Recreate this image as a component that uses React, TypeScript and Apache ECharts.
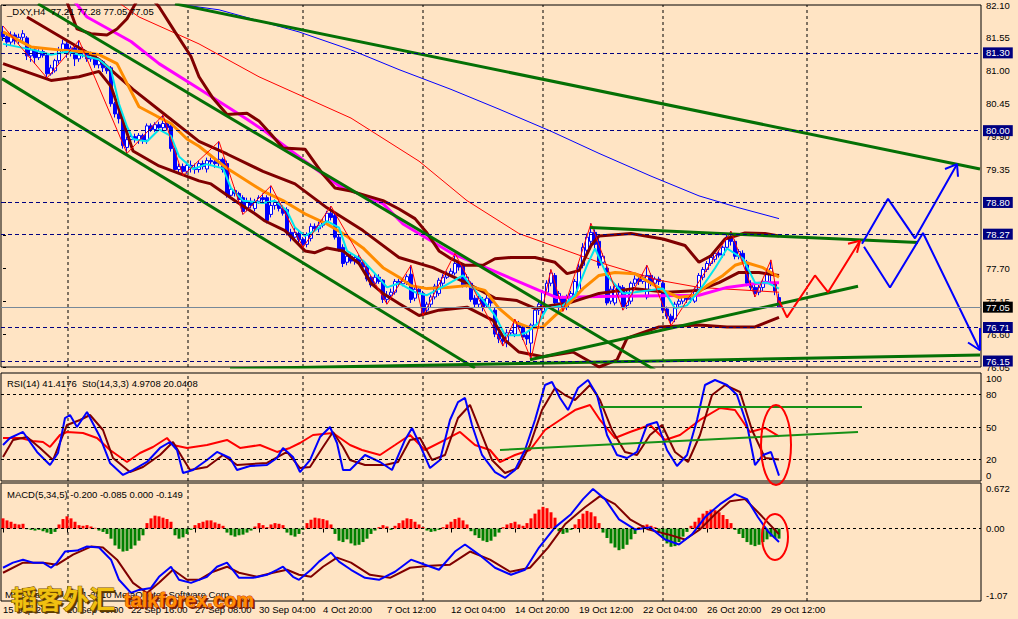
import React, { useEffect, useRef } from "react";
import * as echarts from "echarts";

// ---------- candles (H4 bars, index 0..194) ----------
const OPEN = [81.65,81.57,81.48,81.60,81.50,81.56,81.55,81.25,81.35,81.22,81.32,81.26,80.95,81.00,81.17,81.35,81.45,81.30,81.38,81.20,81.35,81.30,81.20,81.28,81.10,81.15,81.05,81.05,80.45,80.28,80.20,79.72,79.85,79.90,79.85,79.92,79.84,80.08,80.02,80.10,80.05,80.12,80.08,79.70,79.35,79.40,79.32,79.42,79.38,79.35,79.45,79.36,79.50,79.48,79.45,79.52,79.45,78.92,79.00,78.95,78.88,78.70,78.82,78.70,78.82,78.88,78.88,78.60,78.75,78.78,78.70,78.68,78.30,78.22,78.28,78.18,78.10,78.20,78.40,78.36,78.42,78.48,78.62,78.58,78.22,78.05,77.80,77.90,77.82,77.88,77.80,77.72,77.55,77.45,77.55,77.50,77.18,77.25,77.30,77.48,77.44,77.48,77.60,77.20,77.35,77.28,77.00,77.10,77.22,77.28,77.45,77.55,77.60,77.62,77.78,77.75,77.42,77.45,77.20,77.10,77.18,77.08,77.20,77.00,76.60,76.52,76.45,76.62,76.60,76.78,76.72,76.58,76.45,76.75,77.00,76.98,77.30,77.45,77.58,77.12,77.20,77.05,77.22,77.26,77.30,77.75,78.00,78.15,78.30,78.15,77.80,77.70,77.15,77.12,77.40,77.38,77.08,77.15,77.45,77.52,77.48,77.22,77.58,77.45,77.52,77.45,77.02,76.90,76.85,77.10,77.15,77.22,77.18,77.15,77.35,77.55,77.68,77.78,77.85,77.95,77.92,78.05,78.22,78.15,77.90,77.95,77.80,77.45,77.38,77.30,77.38,77.48,77.60,77.45,77.21];
const CLOSE = [81.57,81.48,81.60,81.50,81.56,81.62,81.25,81.35,81.22,81.32,81.26,80.95,81.05,81.17,81.35,81.45,81.30,81.38,81.20,81.35,81.30,81.20,81.28,81.10,81.18,81.05,81.00,80.45,80.28,80.20,79.75,79.85,79.90,79.85,79.92,79.84,80.08,80.02,80.10,80.05,80.12,80.05,79.70,79.35,79.40,79.32,79.42,79.38,79.35,79.45,79.40,79.50,79.48,79.45,79.52,79.35,78.92,79.02,78.95,78.85,78.65,78.82,78.75,78.82,78.88,78.85,78.50,78.75,78.80,78.70,78.62,78.30,78.22,78.30,78.18,78.10,78.25,78.40,78.36,78.42,78.48,78.62,78.55,78.22,78.02,77.78,77.90,77.82,77.88,77.80,77.72,77.52,77.42,77.55,77.48,77.18,77.25,77.30,77.48,77.44,77.48,77.56,77.18,77.35,77.30,76.95,77.10,77.22,77.40,77.50,77.55,77.60,77.65,77.78,77.72,77.42,77.55,77.18,77.10,77.20,77.05,77.20,77.12,76.60,76.52,76.48,76.62,76.66,76.80,76.72,76.55,76.52,76.75,77.00,77.10,77.30,77.45,77.62,77.12,77.28,77.05,77.22,77.28,77.48,77.72,78.05,78.22,78.30,78.10,77.75,77.90,77.12,77.35,77.40,77.30,77.05,77.30,77.45,77.52,77.48,77.55,77.58,77.45,77.52,77.48,77.00,76.90,76.82,77.10,77.15,77.22,77.18,77.20,77.35,77.58,77.68,77.78,77.88,77.95,77.92,78.05,78.22,78.15,77.90,77.98,77.85,77.45,77.38,77.28,77.38,77.48,77.62,77.70,77.32,77.05];
const LOW = [81.50,81.40,81.42,81.44,81.45,81.50,81.18,81.15,81.12,81.18,81.22,80.88,80.92,80.97,81.12,81.30,81.22,81.24,81.08,81.15,81.22,81.15,81.15,81.05,81.04,80.98,80.95,80.40,80.22,80.12,79.70,79.62,79.80,79.80,79.78,79.78,79.78,79.98,79.98,80.00,80.00,80.00,79.65,79.30,79.28,79.25,79.28,79.30,79.28,79.30,79.35,79.30,79.42,79.38,79.40,79.30,78.88,78.88,78.90,78.80,78.60,78.65,78.70,78.65,78.78,78.80,78.45,78.55,78.68,78.65,78.58,78.25,78.15,78.18,78.12,78.05,78.05,78.15,78.32,78.30,78.38,78.45,78.50,78.18,77.98,77.72,77.75,77.78,77.76,77.76,77.66,77.48,77.38,77.42,77.44,77.12,77.10,77.20,77.26,77.40,77.40,77.42,77.12,77.15,77.25,76.91,76.95,77.05,77.18,77.24,77.40,77.52,77.56,77.58,77.66,77.38,77.38,77.14,77.05,77.05,76.98,77.04,77.06,76.55,76.45,76.40,76.38,76.58,76.55,76.68,76.50,76.42,76.18,76.70,76.92,76.94,77.26,77.40,77.08,76.98,76.98,77.00,77.18,77.22,77.26,77.70,77.95,78.08,78.02,77.70,77.72,77.08,77.10,77.08,77.25,77.00,77.02,77.10,77.40,77.42,77.44,77.18,77.40,77.40,77.42,76.95,76.85,76.74,76.80,77.05,77.10,77.12,77.12,77.12,77.30,77.50,77.64,77.74,77.80,77.88,77.88,78.00,78.08,77.85,77.85,77.80,77.40,77.32,77.22,77.25,77.32,77.44,77.42,77.25,77.05];
const HIGH = [81.75,81.62,81.66,81.64,81.62,81.68,81.58,81.42,81.40,81.36,81.36,81.30,81.10,81.20,81.40,81.52,81.48,81.42,81.42,81.51,81.40,81.33,81.32,81.30,81.22,81.18,81.10,81.08,80.48,80.32,80.24,79.90,79.95,79.95,79.96,79.95,80.12,80.12,80.14,80.15,80.26,80.15,80.12,79.72,79.45,79.45,79.48,79.50,79.45,79.50,79.50,79.55,79.55,79.55,79.82,79.55,79.50,79.08,79.05,78.98,78.92,78.88,78.88,78.86,78.92,78.95,78.92,79.08,78.85,78.82,78.75,78.72,78.36,78.38,78.32,78.22,78.30,78.45,78.45,78.48,78.52,78.66,78.74,78.62,78.26,78.10,77.95,77.95,77.92,77.92,77.84,77.76,77.58,77.60,77.60,77.52,77.32,77.36,77.52,77.52,77.54,77.60,77.75,77.40,77.40,77.32,77.14,77.26,77.44,77.54,77.60,77.65,77.70,77.95,77.82,77.78,77.60,77.48,77.25,77.24,77.22,77.25,77.24,77.04,76.64,76.58,76.68,76.70,76.85,76.82,76.75,76.62,76.78,77.04,77.14,77.34,77.50,77.68,77.62,77.32,77.24,77.26,77.32,77.52,77.78,78.12,78.28,78.45,78.35,78.20,77.95,77.75,77.40,77.45,77.45,77.42,77.34,77.48,77.58,77.55,77.60,77.75,77.62,77.56,77.56,77.48,77.06,76.94,77.14,77.20,77.26,77.26,77.25,77.38,77.62,77.72,77.82,77.92,78.00,78.00,78.08,78.26,78.32,78.18,78.02,78.00,77.84,77.50,77.42,77.42,77.52,77.66,77.84,77.50,77.28];

// ---------- main-panel indicators: [bar index, price] ----------
const MA_MAGENTA = [[17,82.23],[21,81.90],[32,81.49],[39,81.12],[49,80.70],[61,80.19],[65.5,79.99],[75.5,79.49],[84,79.08],[95,78.78],[100,78.44],[112.5,77.94],[122.5,77.66],[134,77.33],[138.5,77.21],[149,77.23],[174,77.25],[181,77.38],[190,77.46],[194,77.46]];
const MA_RED = [[27,82.23],[34,81.90],[49,81.45],[64,80.90],[87,80.21],[104,79.49],[116,78.83],[129,78.28],[149,77.80],[164,77.50],[174,77.38],[194,77.30]];
const MA_BLUE = [[39,82.20],[43,82.12],[54,82.02],[74,81.65],[87,81.35],[99,81.02],[112,80.69],[124,80.36],[137,79.99],[149,79.62],[162,79.24],[174,78.91],[184,78.71],[194,78.53]];
const BB_UPPER = [[12,82.48],[16,82.15],[18.5,81.70],[22,81.62],[26,81.60],[28.5,81.70],[31,81.87],[34,82.23],[37,82.23],[39,82.07],[43,81.65],[47,81.24],[49,80.90],[52.5,80.54],[56,80.27],[61,80.29],[64,80.16],[67,79.94],[70,79.71],[75.5,79.69],[80,79.27],[83,79.04],[87,78.99],[95,78.83],[99,78.69],[103,78.53],[106,78.29],[109,77.99],[112,77.86],[115.5,77.75],[120,77.75],[123,77.86],[127,77.88],[133,77.88],[138,77.80],[141,77.61],[144,77.66],[147,78.08],[149,78.24],[157,78.28],[165,78.19],[170.5,78.08],[174,77.80],[177,77.91],[180.5,78.19],[185.5,78.29],[190.5,78.28],[194,78.24]];
const BB_MID = [[6,81.90],[24,81.19],[32.5,80.69],[41,80.24],[49,79.82],[56,79.61],[65,79.32],[73,79.11],[81,78.71],[90,78.33],[99,77.88],[107.5,77.71],[116,77.45],[123,77.20],[128.5,77.16],[133,77.03],[137,77.08],[141,77.11],[149,77.28],[157.5,77.36],[166,77.30],[174,77.33],[179,77.46],[184,77.63],[189,77.63],[194,77.58]];
const BB_LOWER = [[0,81.12],[12,80.84],[19,80.90],[24,80.99],[27,80.74],[30,80.16],[32.5,79.66],[39,79.41],[49,79.16],[52,79.11],[58,78.83],[63,78.61],[65.5,78.49],[70.5,78.33],[75.5,77.99],[78,77.96],[81,78.04],[85,77.99],[89,77.78],[92,77.45],[95,77.28],[99,77.11],[104,76.91],[109,77.00],[116,77.05],[122.5,76.83],[125.5,76.50],[129,76.30],[135,76.22],[142.5,76.30],[147,76.13],[149,76.05],[153.5,76.17],[156,76.53],[164,76.72],[174,76.75],[181,76.72],[188,76.72],[191,76.80],[194,76.88]];
const MA_ORANGE = [[0,81.65],[7,81.40],[14,81.35],[20,81.32],[24,81.27],[28.5,81.12],[31,80.79],[34,80.40],[38.5,80.24],[42,80.12],[46,79.86],[49,79.74],[56,79.37],[65,78.99],[70,78.83],[75.5,78.61],[81,78.44],[85,78.28],[90,78.04],[95,77.71],[99,77.55],[102,77.41],[106,77.36],[111,77.38],[116,77.41],[120.5,77.33],[124,77.03],[128,76.80],[132,76.70],[135,76.72],[138,76.91],[141,77.08],[145,77.36],[149,77.58],[153,77.63],[158,77.61],[165,77.33],[169,77.21],[173,77.25],[176,77.41],[180,77.58],[183,77.75],[185.5,77.80],[190,77.71],[194,77.55]];
const MA_CYAN = [[0,81.45],[7.5,81.35],[12,81.27],[16,81.32],[21,81.24],[24,81.19],[27,81.02],[29,80.45],[31,80.07],[32.5,79.86],[36,79.82],[39,80.02],[42,79.91],[44,79.57],[47.5,79.36],[51,79.44],[55,79.37],[57,79.04],[60,78.83],[65,78.79],[68,78.83],[71,78.66],[73,78.38],[75.5,78.24],[78,78.33],[81,78.49],[84,78.38],[86,77.99],[90,77.83],[93,77.61],[96,77.38],[99,77.45],[103,77.30],[106,77.25],[110.5,77.41],[115,77.58],[117,77.41],[120.5,77.13],[123,76.91],[125.5,76.58],[129,76.58],[131,76.63],[134,76.80],[136,77.03],[140,77.08],[143,77.25],[146,77.75],[148,78.03],[151,77.58],[155,77.28],[158,77.30],[165,77.36],[168,77.03],[171,77.08],[175,77.41],[178,77.70],[181,78.03],[185,77.86],[188,77.46],[191,77.46],[194,77.36]];
const ZIGZAG = [[0,81.75],[11,80.88],[19,81.51],[31,79.62],[40,80.26],[45,79.25],[54,79.82],[60,78.60],[67,79.08],[75,78.05],[82,78.74],[96,77.10],[102,77.75],[105,76.91],[113,77.95],[125,76.40],[128,76.85],[132,76.18],[137,77.68],[140,76.98],[147,78.45],[155,77.00],[161,77.75],[167,76.74],[182,78.32],[188,77.22],[192,77.84],[194,77.05]];

// ---------- hand-drawn objects (bar index, price) ----------
const TREND_LINES = [
  [[43,82.12],[244.25,79.36]],
  [[8.75,82.12],[163,76.00]],
  [[-0.25,80.87],[118,76.03]],
  [[56.75,76.02],[244.25,76.25]],
  [[131.75,76.17],[213.75,77.40]],
  [[146.75,78.38],[228.75,78.13]],
];
const RED_PATH = [[194,77.16],[196,76.88],[203,77.58],[206.25,77.30],[214.25,78.16]];
const RED_HEAD = [[211.25,78.11],[214.25,78.16],[213.5,77.96]];
const BLUE_UP = [[214.75,78.11],[221.25,78.86],[228,78.20],[238.5,79.44]];
const BLUE_UP_HEAD = [[235.5,79.36],[238.5,79.44],[238.75,79.23]];
const BLUE_DOWN = [[215.25,78.06],[221.75,77.38],[230,78.29],[244.25,76.33]];
const BLUE_DOWN_HEAD = [[241.25,76.46],[244.25,76.33],[244.25,76.70]];
const H_LEVELS = [81.30, 80.00, 78.80, 78.27, 76.71, 76.15];
const LAST_PRICE = 77.05;
const WEEK_LINES = [16.25, 46.25, 75, 105, 135, 165, 201];

// ---------- RSI / Stochastic ----------
const RSI = [[0,39.8],[4.25,39.8],[7.5,37.0],[10,36.1],[11.75,31.5],[14.25,42.6],[16,45.4],[20,44.4],[23.5,39.8],[26.75,28.7],[31,17.6],[34.25,25.9],[37.5,31.5],[41,39.8],[42.5,33.3],[46,30.6],[51,33.3],[56,38.0],[59.25,30.6],[64.25,33.3],[68.5,26.9],[71.75,30.6],[74.25,35.2],[77.5,42.6],[82.5,44.4],[86.75,33.3],[89.75,28.7],[94.25,24.1],[98,33.3],[101.75,42.6],[105.5,28.7],[110.5,38.0],[114.25,45.4],[118,33.3],[121.75,28.7],[124.25,17.6],[128,24.1],[131.75,28.7],[135.5,47.2],[139.25,56.5],[143,65.7],[146.75,70.4],[149.25,56.5],[153,39.8],[156.75,45.4],[161.75,51.9],[165.5,38.0],[169.25,42.6],[174.25,56.5],[179.25,67.6],[183,65.7],[186.75,45.4],[190.5,49.1],[194,41.4]];
const STO_MAIN = [[0,33.3],[1.75,39.8],[5,45.4],[8.5,26.9],[11.75,14.8],[13.75,25.9],[15.5,58.3],[16.75,61.1],[18.5,50.0],[21,63.9],[24.25,40.7],[26.75,16.7],[30,5.6],[32.5,10.2],[36,17.6],[39.25,30.6],[41.75,36.1],[43.5,28.7],[45,7.4],[47.5,10.2],[51,19.4],[53.5,26.9],[56.75,21.3],[58.5,10.2],[61.75,13.9],[66,14.8],[68.5,21.3],[70,30.6],[72.5,22.2],[74.25,8.3],[76.75,19.4],[79.25,40.7],[81.75,50.0],[83.5,35.2],[85,10.2],[86.75,10.2],[90.5,24.1],[94.25,17.6],[97.25,10.2],[100.5,38.0],[102.25,49.1],[104.25,33.3],[106.75,12.0],[109.25,19.4],[111.75,56.5],[113.75,73.1],[115.5,76.9],[117.25,51.9],[119.75,24.1],[123,8.3],[125.5,2.8],[128,10.2],[130.5,28.7],[133,56.5],[135.5,88.9],[137.25,91.7],[139.25,76.9],[141.25,65.7],[143.75,86.1],[146.25,93.5],[148.5,79.6],[151,42.6],[153.5,24.1],[156,21.3],[158.5,26.9],[161,51.9],[163.5,54.6],[166,28.7],[168.5,13.9],[171,24.1],[173.5,56.5],[175.5,88.9],[178,93.5],[181,88.9],[183.5,79.6],[186,51.9],[188,14.8],[190,24.1],[192,26.9],[194,5.0]];
const STO_SIGNAL = [[0,22.2],[2.5,38.0],[6,40.7],[9.25,30.6],[12.5,19.4],[16,51.9],[19.25,56.5],[21.75,61.1],[25,47.2],[27.5,21.3],[31.75,8.3],[35,13.0],[39.25,24.1],[42.5,36.1],[44.75,22.2],[46.75,10.2],[51,13.0],[55,24.1],[58.5,14.8],[66,16.7],[71,26.9],[74.25,12.0],[76.75,13.0],[80,31.5],[82.5,45.4],[85,31.5],[86.75,19.4],[90.5,14.8],[95.5,14.8],[98.75,17.6],[101.75,38.0],[104.25,39.8],[107.25,19.4],[110.5,24.1],[113.75,58.3],[116.75,70.4],[119.25,47.2],[122.25,19.4],[125.5,7.4],[128.75,12.0],[131.75,33.3],[134.75,65.7],[138,86.1],[140.5,79.6],[143,75.0],[146.75,88.9],[149.25,75.0],[152.25,47.2],[155.5,26.9],[158.5,24.1],[161.75,42.6],[164.75,51.9],[168,26.9],[171.25,17.6],[174.25,42.6],[177.25,79.6],[180.5,88.9],[184.25,82.4],[187.25,47.2],[190.5,21.3],[194,20.0]];
const RSI_LINES = [[[149.25,68.5],[214.75,68.5]],[[124.25,28.7],[213.75,45.4]]];
const RSI_LEVELS = [80, 50, 20];

// ---------- MACD ----------
const MACD_HIST = [0.15,0.12,0.10,0.07,0.06,0.07,-0.01,-0.02,-0.03,-0.02,-0.04,-0.06,-0.08,-0.05,0.06,0.14,0.18,0.15,0.10,0.05,0.04,0.05,0.03,0.01,-0.03,-0.05,-0.08,-0.15,-0.25,-0.30,-0.34,-0.33,-0.30,-0.25,-0.18,-0.10,0.08,0.15,0.19,0.18,0.16,0.14,0.10,-0.10,-0.15,-0.13,-0.08,-0.02,0.05,0.08,0.10,0.12,0.12,0.09,0.07,0.04,-0.06,-0.10,-0.12,-0.10,-0.09,-0.06,-0.03,0.03,0.08,0.05,0.02,0.06,0.08,0.07,0.05,-0.06,-0.10,-0.12,-0.08,-0.02,0.08,0.13,0.16,0.15,0.14,0.12,0.06,-0.08,-0.18,-0.20,-0.16,-0.22,-0.25,-0.24,-0.20,-0.15,-0.08,-0.03,0.02,0.05,0.03,-0.02,0.04,0.08,0.12,0.15,0.14,0.10,0.06,0.02,-0.03,-0.05,-0.04,-0.02,0.02,0.06,0.10,0.14,0.16,0.12,0.06,-0.04,-0.10,-0.14,-0.18,-0.20,-0.18,-0.12,-0.06,0.02,0.06,0.08,0.10,0.06,0.04,0.08,0.15,0.22,0.28,0.32,0.30,0.24,0.16,-0.04,-0.08,-0.06,-0.02,0.06,0.14,0.22,0.26,0.24,0.18,0.08,-0.06,-0.14,-0.22,-0.28,-0.32,-0.30,-0.24,-0.16,-0.08,0.02,0.05,0.06,0.04,0.02,-0.06,-0.14,-0.22,-0.27,-0.26,-0.20,-0.12,-0.05,0.04,0.10,0.16,0.22,0.26,0.28,0.27,0.24,0.20,0.14,0.08,-0.02,-0.08,-0.14,-0.20,-0.24,-0.26,-0.24,-0.20,-0.16,-0.12,-0.14,-0.149];
const MACD_MAIN = [[0,-0.579],[2.5,-0.504],[5,-0.460],[7.5,-0.504],[10,-0.504],[12,-0.579],[13.5,-0.504],[15.5,-0.340],[18.5,-0.326],[21,-0.266],[24,-0.281],[27,-0.460],[29,-0.757],[32,-0.951],[34,-0.906],[37,-0.877],[39,-0.713],[42,-0.564],[44,-0.757],[47,-0.802],[51,-0.713],[53.5,-0.564],[56,-0.504],[59,-0.728],[62.5,-0.728],[66,-0.683],[68.5,-0.609],[70,-0.564],[72.5,-0.713],[74,-0.757],[77,-0.609],[79,-0.489],[82,-0.355],[84,-0.489],[87,-0.609],[90.5,-0.728],[94,-0.757],[98,-0.638],[102,-0.460],[105.5,-0.534],[109,-0.609],[113,-0.340],[115.5,-0.236],[119,-0.385],[123,-0.579],[127,-0.683],[130.5,-0.609],[134,-0.281],[138,0.017],[142,0.211],[145,0.434],[147.5,0.583],[150.5,0.434],[154,0.136],[158,-0.013],[161.75,0.017],[165.5,-0.162],[169,-0.236],[172.25,-0.087],[175.5,0.166],[179.25,0.360],[183,0.508],[186,0.434],[188.75,0.166],[191.25,-0.043],[194,-0.200]];
const MACD_SIGNAL = [[0,-0.653],[5,-0.504],[10,-0.504],[13.5,-0.534],[17.5,-0.385],[22,-0.266],[25,-0.281],[28.5,-0.460],[32.5,-0.802],[36,-0.951],[39,-0.802],[42.5,-0.609],[46,-0.757],[49,-0.757],[52.5,-0.638],[56,-0.564],[59,-0.653],[63.5,-0.713],[67.5,-0.653],[71,-0.609],[74,-0.683],[77,-0.713],[80,-0.564],[83.5,-0.430],[87,-0.504],[91.75,-0.683],[96.75,-0.728],[101.75,-0.579],[106.75,-0.549],[111.75,-0.534],[116.75,-0.340],[121.75,-0.460],[126.75,-0.638],[131.75,-0.579],[136.25,-0.281],[140.5,0.062],[145.5,0.315],[149.25,0.478],[153,0.360],[156.75,0.136],[161.25,-0.013],[166.25,-0.087],[170.5,-0.162],[174.25,-0.013],[178,0.211],[181.75,0.404],[185.5,0.434],[189.25,0.211],[194,-0.085]];

const TIME_LABELS = ["15 Sep 2010","20 Sep 00:00","22 Sep 16:00","27 Sep 08:00","30 Sep 04:00","4 Oct 20:00","7 Oct 12:00","12 Oct 04:00","14 Oct 20:00","19 Oct 12:00","22 Oct 04:00","26 Oct 20:00","29 Oct 12:00"];
const LABEL_STEP = 16;
const SLOTS = 245;

const BG = "#FFE4C4";
const FONT = "'Liberation Sans', Arial, sans-serif";
const FS = 9.5;

export default function App() {
  const ref = useRef<HTMLDivElement>(null);
  useEffect(() => {
    const chart = echarts.init(ref.current as HTMLDivElement, null, { renderer: "svg" });
    const cats = Array.from({ length: SLOTS }, (_, i) => String(i));
    const grids = [
      { left: 1, right: 37, top: 3, height: 364 },
      { left: 1, right: 37, top: 373, height: 108 },
      { left: 1, right: 37, top: 483, height: 118 },
    ].map((g) => ({ ...g, show: true, borderColor: "#000", borderWidth: 1, backgroundColor: "transparent" }));

    const showFn = (i: number) => i % LABEL_STEP === 0 && i / LABEL_STEP < TIME_LABELS.length;
    const xAxes: any[] = [];
    [0, 1, 2].forEach((g) => {
      const isBottom = g === 2;
      xAxes.push(isBottom ? {
        type: "category", gridIndex: g, data: cats, boundaryGap: true,
        axisLine: { show: false },
        axisTick: { show: true, alignWithLabel: true, interval: (i: number) => showFn(i), length: 4, lineStyle: { color: "#000" } },
        axisLabel: { show: true, interval: (i: number) => showFn(i), formatter: (_v: string, i: number) => TIME_LABELS[i / LABEL_STEP] || "", align: "left", margin: 3, fontSize: FS, fontFamily: FONT, color: "#000" },
        splitLine: { show: false }, splitArea: { show: false },
      } : {
        type: "category", gridIndex: g, data: cats, boundaryGap: true, show: false,
        axisLine: { show: false }, axisTick: { show: false }, axisLabel: { show: false },
        splitLine: { show: false }, splitArea: { show: false },
      });
      xAxes.push({ type: "value", gridIndex: g, min: -0.5, max: SLOTS - 0.5, show: false,
        axisLine: { show: false }, axisTick: { show: false }, axisLabel: { show: false }, splitLine: { show: false } });
    });

    const Y_RANGES = [[76.05, 82.10], [0, 100], [-1.07, 0.672]];
    const labelStyle = { fontSize: FS, fontFamily: FONT, color: "#000" };
    const yAxes: any[] = [
      { type: "value", gridIndex: 0, position: "right", min: Y_RANGES[0][0], max: Y_RANGES[0][1], interval: 0.55, axisLine: { show: false },
        axisTick: { show: true, length: 3, lineStyle: { color: "#000" } }, splitLine: { show: false },
        axisLabel: { ...labelStyle, margin: 5, formatter: (v: number) => v.toFixed(2) } },
      { type: "value", gridIndex: 1, position: "right", min: Y_RANGES[1][0], max: Y_RANGES[1][1], interval: 10, axisLine: { show: false },
        axisTick: { show: false }, splitLine: { show: false },
        axisLabel: { ...labelStyle, margin: 5,
          formatter: (v: number) => v === 100 ? "{t|100}" : v === 0 ? "{b|0}" : (v === 80 || v === 50 || v === 20) ? String(v) : "",
          rich: { t: { ...labelStyle, padding: [11, 0, 0, 0] }, b: { ...labelStyle, padding: [0, 0, 11, 0] } } } },
      { type: "value", gridIndex: 2, position: "right", min: Y_RANGES[2][0], max: Y_RANGES[2][1], interval: 1.07, axisLine: { show: false },
        axisTick: { show: false }, splitLine: { show: false },
        axisLabel: { ...labelStyle, margin: 5,
          formatter: (v: number) => Math.abs(v) < 1e-6 ? "0.00" : v > 0 ? "{t|0.672}" : "{b|-1.07}",
          rich: { t: { ...labelStyle, padding: [11, 0, 0, 0] }, b: { ...labelStyle, padding: [0, 0, 11, 0] } } } },
    ];

    const line = (data: any, color: string, width: number, xi: number, yi: number, z = 3, extra: any = {}) => ({
      type: "line", data, xAxisIndex: xi, yAxisIndex: yi, symbol: "none", showSymbol: false, silent: true,
      lineStyle: { color, width }, itemStyle: { color }, z, animation: false, ...extra,
    });
    const boxLabel = (txt: string, bg: string) => ({ show: true, position: "end", distance: 2, formatter: txt, color: "#fff", backgroundColor: bg,
      padding: [1, 3, 0, 3], fontSize: FS, fontFamily: FONT });
    const mk = (data: any[]) => ({ symbol: ["none", "none"], silent: true, animation: false, label: { show: false }, data });

    const series: any[] = [];
    // weekly separators: one dashed vertical segment per week, per panel
    [0, 1, 2].forEach((p) => {
      WEEK_LINES.forEach((x) => {
        series.push(line([[x, Y_RANGES[p][0]], [x, Y_RANGES[p][1]]], "#000", 1, p * 2 + 1, p, 1,
          { lineStyle: { color: "#000", width: 1, type: [3, 3] } }));
      });
    });
    // horizontal price levels
    series.push(line([], "#000", 1, 1, 0, 1, {
      markLine: mk([
        ...H_LEVELS.map((v) => ({ yAxis: v, lineStyle: { color: "#000080", type: [4, 3], width: 1 }, label: boxLabel(v.toFixed(2), "#000080") })),
        { yAxis: LAST_PRICE, lineStyle: { color: "#778899", type: "solid", width: 1 }, label: boxLabel(LAST_PRICE.toFixed(2), "#000") },
      ]),
    }));
    series.push({
      type: "candlestick", xAxisIndex: 0, yAxisIndex: 0, barWidth: 3, z: 2, silent: true, animation: false,
      data: OPEN.map((o, i) => [o, CLOSE[i], LOW[i], HIGH[i]]),
      itemStyle: { color: "#ffffff", color0: "#0000ff", borderColor: "#0000ff", borderColor0: "#0000ff", borderWidth: 1 },
    });
    series.push(line(MA_BLUE, "#0000ff", 1, 1, 0));
    series.push(line(MA_RED, "#ff0000", 1, 1, 0));
    series.push(line(MA_MAGENTA, "#ff00ff", 3, 1, 0));
    series.push(line(BB_UPPER, "#800000", 3, 1, 0));
    series.push(line(BB_MID, "#800000", 3, 1, 0));
    series.push(line(BB_LOWER, "#800000", 3, 1, 0));
    series.push(line(MA_ORANGE, "#ff8c00", 3, 1, 0));
    series.push(line(MA_CYAN, "#00e5ee", 2, 1, 0));
    series.push(line(ZIGZAG, "#ff0000", 1, 1, 0));
    TREND_LINES.forEach((t) => series.push(line(t, "#057005", 3, 1, 0, 4)));
    series.push(line(RED_PATH, "#ff0000", 2, 1, 0, 4));
    series.push(line(RED_HEAD, "#ff0000", 2, 1, 0, 4));
    series.push(line(BLUE_UP, "#0000ff", 2, 1, 0, 4));
    series.push(line(BLUE_UP_HEAD, "#0000ff", 2, 1, 0, 4));
    series.push(line(BLUE_DOWN, "#0000ff", 2, 1, 0, 4));
    series.push(line(BLUE_DOWN_HEAD, "#0000ff", 2, 1, 0, 4));

    // RSI panel
    series.push(line(RSI, "#ff0000", 2, 3, 1, 3, {
      markLine: mk(RSI_LEVELS.map((v) => ({ yAxis: v, lineStyle: { color: "#000", type: [3, 3], width: 1 } }))),
    }));
    series.push(line(STO_SIGNAL, "#800000", 2, 3, 1));
    series.push(line(STO_MAIN, "#0000ff", 2, 3, 1));
    RSI_LINES.forEach((t) => series.push(line(t, "#169016", 2, 3, 1, 4)));

    // MACD panel
    series.push({
      type: "bar", xAxisIndex: 4, yAxisIndex: 2, barWidth: 3, silent: true, animation: false, z: 2,
      data: MACD_HIST.map((v) => ({ value: v, itemStyle: { color: v >= 0 ? "#ff0000" : "#008000" } })),
      markLine: mk([{ yAxis: 0, lineStyle: { color: "#000", type: [3, 3], width: 1 } }]),
    });
    series.push(line(MACD_SIGNAL, "#800000", 2, 5, 2));
    series.push(line(MACD_MAIN, "#0000ff", 2, 5, 2));

    chart.setOption({
      backgroundColor: BG, animation: false, grid: grids, xAxis: xAxes, yAxis: yAxes, series,
    });

    const txt = (x: number, y: number, text: string, extra: any = {}) => ({
      type: "text", x, y, silent: true, z: 100,
      style: { text, fill: "#000", fontSize: FS, fontFamily: FONT, verticalAlign: "top", ...extra },
    });
    const c1 = chart.convertToPixel({ xAxisIndex: 3, yAxisIndex: 1 }, [193.25, 33.3]) as number[];
    const c2 = chart.convertToPixel({ xAxisIndex: 5, yAxisIndex: 2 }, [193.0, -0.125]) as number[];
    chart.setOption({
      graphic: [
        txt(7, 6, "_DXY,H4  77.21 77.28 77.05 77.05"),
        txt(7, 378, "RSI(14) 41.4176  Sto(14,3,3) 4.9708 20.0408"),
        txt(7, 489, "MACD(5,34,5) -0.200 -0.085 0.000 -0.149"),
        txt(5, 589, "MetaTrader © 2001-2010 MetaQuotes Software Corp."),
        { type: "ellipse", silent: true, z: 100, shape: { cx: c1[0], cy: c1[1], rx: 15, ry: 40 }, style: { fill: "none", stroke: "#ff0000", lineWidth: 2 } },
        { type: "ellipse", silent: true, z: 100, shape: { cx: c2[0], cy: c2[1], rx: 13, ry: 23 }, style: { fill: "none", stroke: "#ff0000", lineWidth: 2 } },
        txt(13, 586, "韬客外汇", { fontSize: 26, fontWeight: "bold", fontFamily: "'Noto Sans CJK SC', sans-serif", fill: "#5a3a00" }),
        txt(11, 584, "韬客外汇", { fontSize: 26, fontWeight: "bold", fontFamily: "'Noto Sans CJK SC', sans-serif", fill: "#f0c010", stroke: "#7a5200", lineWidth: 1 }),
        txt(126, 592, "talkforex.com", { fontSize: 20, fontWeight: "bold", fontFamily: FONT, fill: "#7a2000" }),
        txt(124, 590, "talkforex.com", { fontSize: 20, fontWeight: "bold", fontFamily: FONT, fill: "#ff8c00", stroke: "#c03000", lineWidth: 0.8 }),
      ],
    });
    return () => chart.dispose();
  }, []);
  return <div ref={ref} style={{ position: "fixed", left: 0, top: 0, width: 1018, height: 619, background: BG }} />;
}
